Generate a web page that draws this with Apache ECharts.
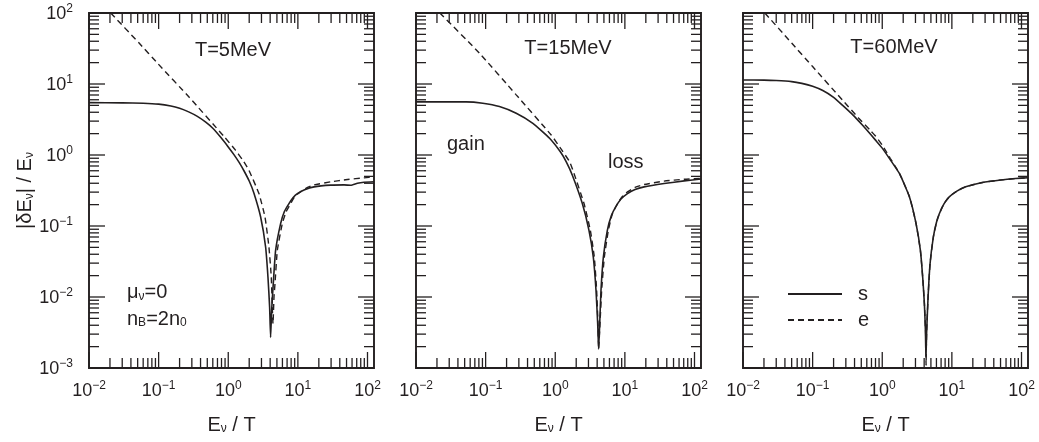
<!DOCTYPE html>
<html><head><meta charset="utf-8">
<script src="https://cdn.jsdelivr.net/npm/echarts@6/dist/echarts.min.js"></script>
<style>html,body{margin:0;padding:0;background:#fff}#c{width:1039px;height:442px}</style>
</head><body><div id="c"></div>
<script>
// ---- axis ranges and tick definitions ----
const X_MIN = 0.01, X_MAX = 124;
const Y_MIN = 0.001, Y_MAX = 100;
const X_DECADES = [-2, -1, 0, 1, 2];
const Y_DECADES = [-3, -2, -1, 0, 1, 2];
const MINOR_MULT = [2, 3, 4, 5, 6, 7, 8, 9];
const PANEL_TITLES = ['T=5MeV', 'T=15MeV', 'T=60MeV'];
const LEGEND_NAMES = ['s', 'e'];

// ---- data [E/T, |dE|/E] ----
const S_T5 = [[0.01,5.47],[0.03,5.42],[0.06,5.35],[0.1,5.2],[0.15,4.9],[0.2,4.55],[0.27,4.05],[0.36,3.5],[0.475,2.9],[0.6,2.38],[0.785,1.76],[1.0,1.3],[1.2,1.02],[1.44,0.78],[1.68,0.6],[2.0,0.43],[2.34,0.29],[2.92,0.134],[3.44,0.0506],[3.72,0.019],[3.93,0.0072],[4.06,0.0027],[4.2,0.0065],[4.43,0.0153],[4.79,0.0454],[5.65,0.108],[6.4,0.16],[7.45,0.207],[8.5,0.25],[9.82,0.286],[12.5,0.325],[17.1,0.356],[29.6,0.376],[46,0.379],[57.5,0.375],[71.6,0.40],[89,0.413],[124,0.419]];
const E_T5 = [[0.0205,100],[0.0524,37.7],[0.0984,19.2],[0.275,6.5],[0.875,1.81],[1.27,1.17],[1.61,0.85],[1.98,0.61],[2.76,0.286],[3.37,0.134],[3.84,0.0506],[4.15,0.019],[4.29,0.0072],[4.39,0.0042],[4.54,0.010],[4.69,0.0153],[5.07,0.0454],[5.97,0.108],[6.8,0.16],[7.87,0.207],[8.9,0.255],[10.4,0.292],[13,0.34],[17.1,0.379],[29.6,0.419],[51.5,0.452],[89,0.477],[124,0.492]];
const S_T15 = [[0.01,5.6],[0.0524,5.6],[0.091,5.36],[0.158,4.81],[0.275,3.87],[0.477,2.79],[0.828,1.72],[1.19,1.1],[1.44,0.8],[1.76,0.52],[2.45,0.207],[3.05,0.0869],[3.52,0.0365],[3.85,0.0124],[4.07,0.0042],[4.2,0.00185],[4.35,0.0042],[4.54,0.0124],[4.91,0.0365],[5.6,0.0869],[6.4,0.14],[7.38,0.186],[8.8,0.24],[10.9,0.286],[14,0.327],[18.9,0.356],[36.6,0.396],[71,0.432],[124,0.46]];
const E_T15 = [[0.022,100],[0.0815,27.2],[0.275,7.03],[0.875,1.91],[1.26,1.15],[1.61,0.8],[1.86,0.55],[2.59,0.207],[3.19,0.0869],[3.64,0.0365],[3.93,0.0124],[4.11,0.0042],[4.2,0.00185],[4.39,0.0042],[4.64,0.0124],[5.07,0.0365],[5.79,0.0869],[6.6,0.148],[7.63,0.196],[9.0,0.255],[10.9,0.302],[14,0.35],[18.9,0.384],[36.6,0.428],[71,0.456],[124,0.467]];
const S_T60 = [[0.01,11.4],[0.02,11.35],[0.03,11.2],[0.05,10.8],[0.07,10.2],[0.1,9.3],[0.14,8.1],[0.2,6.5],[0.27,5.0],[0.36,3.85],[0.46,3.0],[0.6,2.25],[0.8,1.62],[1.0,1.25],[1.3,0.86],[1.77,0.545],[2.46,0.257],[3.06,0.108],[3.53,0.0454],[3.81,0.019],[4.03,0.008],[4.17,0.00337],[4.24,0.00141],[4.35,0.00337],[4.55,0.0099],[4.86,0.0294],[5.42,0.07],[6.0,0.112],[6.6,0.149],[7.7,0.205],[9.17,0.257],[11.8,0.31],[15.8,0.356],[27.5,0.41],[47.5,0.442],[82,0.466],[124,0.478]];
const E_T60 = [[0.0206,100],[0.05,37.7],[0.1,17.6],[0.27,5.9],[0.46,3.3],[0.68,2.2],[0.8,1.85],[1.0,1.38],[1.14,1.12],[1.3,0.9],[1.77,0.55],[2.46,0.258],[3.06,0.108],[3.53,0.0454],[3.81,0.019],[4.03,0.008],[4.2,0.003],[4.26,0.0011],[4.33,0.003],[4.55,0.0099],[4.86,0.0294],[5.42,0.07],[6.0,0.112],[6.6,0.149],[7.7,0.205],[9.17,0.257],[11.8,0.31],[15.8,0.356],[27.5,0.41],[47.5,0.442],[82,0.466],[124,0.478]];

const SOLID = [S_T5, S_T15, S_T60];
const DASHED = [E_T5, E_T15, E_T60];

// ---- styling ----
const FONT = '"Liberation Sans", Arial, Helvetica, sans-serif';
const INK = '#231f20';
const GRID_LEFT = [89, 416, 743];
const GRID_TOP = 13, GRID_W = 285, GRID_H = 355;

function buildTicks() {
  const out = [];
  X_DECADES.forEach((d, i) => {
    const b = Math.pow(10, d);
    out.push([b, 1, 0, 1]);
    if (i < X_DECADES.length - 1) MINOR_MULT.forEach(m => out.push([m * b, 1, 0, 0]));
  });
  Y_DECADES.forEach((d, i) => {
    const b = Math.pow(10, d);
    out.push([1, b, 1, 1]);
    if (i < Y_DECADES.length - 1) MINOR_MULT.forEach(m => out.push([1, m * b, 1, 0]));
  });
  return out;
}
const TICKS = buildTicks();

function renderTick(params, api) {
  const cs = params.coordSys;
  const isY = api.value(2) === 1;
  const L = api.value(3) === 1 ? 16 : 10;
  const st = { stroke: INK, lineWidth: 1.3 };
  if (!isY) {
    const x = api.coord([api.value(0), 1])[0];
    const yb = cs.y + cs.height, yt = cs.y;
    return { type: 'group', children: [
      { type: 'line', shape: { x1: x, y1: yb, x2: x, y2: yb - L }, style: st },
      { type: 'line', shape: { x1: x, y1: yt, x2: x, y2: yt + L }, style: st }
    ]};
  }
  const y = api.coord([1, api.value(1)])[1];
  const xl = cs.x, xr = cs.x + cs.width;
  return { type: 'group', children: [
    { type: 'line', shape: { x1: xl, y1: y, x2: xl + L, y2: y }, style: st },
    { type: 'line', shape: { x1: xr, y1: y, x2: xr - L, y2: y }, style: st }
  ]};
}

function powLabel(v) {
  const l = Math.log10(v);
  const e = Math.round(l);
  if (Math.abs(l - e) > 1e-6) return '';
  return '{b|10}{s|' + (e < 0 ? '\u2212' + (-e) : String(e)) + '}';
}
const LABEL_RICH = {
  b: { fontSize: 18, lineHeight: 20, fontFamily: FONT, color: INK, verticalAlign: 'bottom' },
  s: { fontSize: 12, lineHeight: 12, fontFamily: FONT, color: INK, verticalAlign: 'top' }
};
const NAME_RICH = {
  s: { fontSize: 12, lineHeight: 12, fontFamily: FONT, color: INK, verticalAlign: 'bottom' }
};

const grids = [], xAxes = [], yAxes = [], series = [];
for (let i = 0; i < 3; i++) {
  grids.push({ left: GRID_LEFT[i], top: GRID_TOP, width: GRID_W, height: GRID_H,
    show: true, borderColor: INK, borderWidth: 1.9, backgroundColor: 'transparent',
    containLabel: false, outerBoundsMode: 'none' });
  xAxes.push({ type: 'log', logBase: 10, gridIndex: i, min: X_MIN, max: X_MAX,
    axisLine: { show: false }, axisTick: { show: false }, splitLine: { show: false },
    minorTick: { show: false }, minorSplitLine: { show: false },
    axisLabel: { margin: 12, formatter: powLabel, rich: LABEL_RICH, color: INK },
    name: '{a|E}{s|\u03bd}{a| / T}', nameLocation: 'middle', nameGap: 47,
    nameTextStyle: { color: INK, fontFamily: FONT, fontSize: 20, lineHeight: 20,
      rich: Object.assign({ a: { fontSize: 20, lineHeight: 20, fontFamily: FONT, color: INK } }, NAME_RICH) } });
  yAxes.push({ type: 'log', logBase: 10, gridIndex: i, min: Y_MIN, max: Y_MAX,
    axisLine: { show: false }, axisTick: { show: false }, splitLine: { show: false },
    minorTick: { show: false }, minorSplitLine: { show: false },
    axisLabel: { show: i === 0, margin: 16, formatter: powLabel, rich: LABEL_RICH, color: INK },
    name: i === 0 ? '{a||\u03b4E}{s|\u03bd}{a|| / E}{s|\u03bd}' : '', nameLocation: 'middle', nameGap: 53,
    nameTextStyle: { color: INK, fontFamily: FONT, fontSize: 20, lineHeight: 20,
      rich: Object.assign({ a: { fontSize: 20, lineHeight: 20, fontFamily: FONT, color: INK } }, NAME_RICH) } });
  series.push({ type: 'custom', name: 'ticks' + i, xAxisIndex: i, yAxisIndex: i,
    data: TICKS, renderItem: renderTick, encode: { x: 0, y: 1 }, silent: true, clip: false, z: 4 });
  series.push({ type: 'line', name: LEGEND_NAMES[0], xAxisIndex: i, yAxisIndex: i,
    data: SOLID[i], symbol: 'none', smooth: 0.15, animation: false,
    lineStyle: { color: INK, width: 1.6, type: 'solid' }, itemStyle: { color: INK }, z: 3 });
  series.push({ type: 'line', name: LEGEND_NAMES[1], xAxisIndex: i, yAxisIndex: i,
    data: DASHED[i], symbol: 'none', smooth: 0.15, animation: false,
    lineStyle: { color: INK, width: 1.4, type: [6, 4] }, itemStyle: { color: INK }, z: 3 });
}

function txt(x, y, text, align, rich) {
  return { type: 'text', x: x, y: y, silent: true, z: 10,
    style: { text: text, fontSize: 20, fontFamily: FONT, fill: INK,
      align: align, verticalAlign: 'middle', textAlign: align, textVerticalAlign: 'middle',
      lineHeight: 20,
      rich: rich ? { a: { fontSize: 20, lineHeight: 20, fontFamily: FONT, fill: INK, color: INK },
                     s: { fontSize: 12, lineHeight: 12, fontFamily: FONT, fill: INK, color: INK, verticalAlign: 'bottom' } } : undefined } };
}

const option = {
  animation: false,
  backgroundColor: '#fff',
  textStyle: { fontFamily: FONT, color: INK },
  grid: grids, xAxis: xAxes, yAxis: yAxes, series: series,
  legend: { data: LEGEND_NAMES, orient: 'vertical', left: 782, top: 279,
    itemWidth: 54, itemHeight: 14, itemGap: 6, selectedMode: false,
    itemStyle: { opacity: 0 },
    lineStyle: { width: 2 },
    textStyle: { fontSize: 20, lineHeight: 20, fontFamily: FONT, color: INK, padding: [0, 0, 0, 11] } },
  graphic: [
    txt(233, 50, PANEL_TITLES[0], 'center'),
    txt(568, 48, PANEL_TITLES[1], 'center'),
    txt(894, 47, PANEL_TITLES[2], 'center'),
    txt(447, 144, 'gain', 'left'),
    txt(608, 162, 'loss', 'left'),
    txt(127, 292.5, '{a|\u03bc}{s|\u03bd}{a|=0}', 'left', true),
    txt(127, 319, '{a|n}{s|B}{a|=2n}{s|0}', 'left', true)
  ]
};
const chart = echarts.init(document.getElementById('c'), null, { renderer: 'canvas' });
chart.setOption(option);
</script></body></html>
